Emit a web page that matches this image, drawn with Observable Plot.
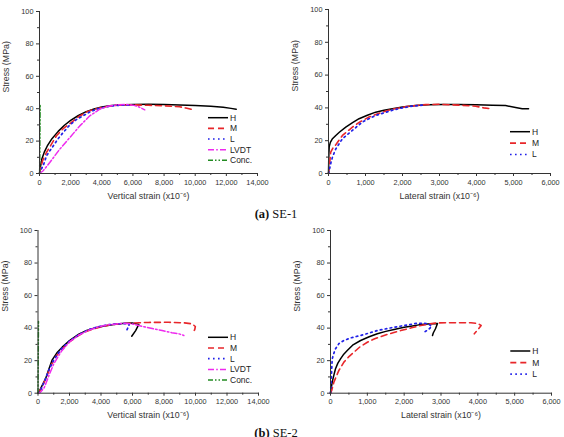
<!DOCTYPE html>
<html>
<head>
<meta charset="utf-8">
<script src="https://cdn.jsdelivr.net/npm/d3@7"></script>
<script src="https://cdn.jsdelivr.net/npm/@observablehq/plot@0.6"></script>
<style>
  html, body { margin: 0; padding: 0; background: #fff; }
  #wrap { position: relative; width: 564px; height: 437px; overflow: hidden; background: #fff; }
  .panel { position: absolute; }
  .caption { position: absolute; width: 200px; text-align: center; font-family: "Palatino Linotype", "Book Antiqua", "Liberation Serif", "DejaVu Serif", serif; font-size: 12.5px; color: #111; white-space: nowrap; }
  .caption b { font-weight: bold; }
</style>
</head>
<body>
<div id="wrap"></div>
<script>
// ---------- tick values / labels ----------
const yTicks = [0, 20, 40, 60, 80, 100];
const yMinor = [10, 30, 50, 70, 90];
const xTicksVert = [0, 2000, 4000, 6000, 8000, 10000, 12000, 14000];
const xMinorVert = [1000, 3000, 5000, 7000, 9000, 11000, 13000];
const xTicksLat = [0, 1000, 2000, 3000, 4000, 5000, 6000];
const xMinorLat = [500, 1500, 2500, 3500, 4500, 5500];
const yTitle = "Stress (MPa)";
const xTitleVert = "Vertical strain (x10\u207B\u2076)";
const xTitleLat = "Lateral strain (x10\u207B\u2076)";
const captions = ["SE-1", "SE-2"];
const captionTags = ["(a)", "(b)"];
const vertSeries = ["H", "M", "L", "LVDT", "Conc."];
const latSeries = ["H", "M", "L"];

// ---------- SE-1 vertical strain ----------
const se1V_H = [[0,0],[60,4],[150,9],[300,13],[500,17],[800,21.5],[1200,26],[1600,29.8],[2000,32.8],[2500,35.8],[3000,38.2],[3500,39.8],[4000,41.1],[4500,41.8],[5000,42.3],[6000,42.6],[7000,42.7],[8000,42.6],[9000,42.3],[10000,41.9],[11000,41.5],[11800,40.9],[12300,40.2],[12630,39.6]];
const se1V_M = [[0,0],[100,4],[200,8],[450,13],[700,17],[1090,23.3],[1500,27.5],[1950,30.8],[2500,35],[3020,37.9],[3500,39.6],[4000,40.8],[4500,41.6],[5000,42.1],[6000,42.4],[7000,42.1],[7950,41.8],[9000,41.2],[9400,40.4],[9880,39.3]];
const se1V_L = [[0,0],[80,2],[237,4.8],[450,10.9],[700,14.5],[880,17],[1200,21.5],[1520,25.3],[1950,30],[2400,33.5],[2800,35.6],[3200,37.8],[3660,39.7],[4200,41],[4730,41.8],[5300,42.2],[5800,42.2]];
const se1V_LVDT = [[0,0],[237,1.7],[660,6.8],[1300,15],[1950,22.2],[2590,29.4],[3230,35.6],[3870,39.7],[4400,41.5],[4950,42.4],[5500,42.6],[6020,42.2],[6400,41],[6760,39.3]];
const se1V_Conc = [[10,0],[20,15],[30,30],[40,42]];

// ---------- SE-1 lateral strain ----------
const se1L_H = [[0,0],[5,6],[10,12],[20,16.5],[50,19],[100,21],[197,23.2],[300,25.3],[467,28.3],[650,31],[826,33.4],[1050,35.5],[1276,37.4],[1500,38.6],[1727,39.5],[2000,40.6],[2357,41.5],[2700,41.9],[3077,42.1],[3500,42.1],[4000,41.9],[4426,41.6],[4786,41.4],[5056,40.3],[5236,39.5],[5407,39.5]];
const se1L_M = [[0,0],[20,3],[35,7],[60,13],[120,15.5],[197,17.5],[377,23.2],[647,28.3],[850,31.5],[1096,34.4],[1400,37],[1727,39.2],[2100,40.8],[2627,42],[3000,42.2],[3527,41.7],[3977,41],[4200,40],[4380,39.5]];
const se1L_L = [[0,0],[20,2],[35,3.5],[70,7],[107,10],[197,15],[377,21.2],[647,26.3],[916,31.4],[1276,35.4],[1727,38.6],[2000,40],[2267,41.1],[2600,41.8]];

// ---------- SE-2 vertical strain ----------
const se2V_H = [[0,0],[50,0.6],[250,4.5],[476,8.8],[700,15],[902,20.5],[1200,24.8],[1536,28.3],[2000,32.3],[2590,36.3],[3100,38.6],[3651,40.2],[4300,41.5],[4920,42.4],[5500,43],[5980,43.2],[6400,42.3],[6200,38.5],[5950,35]];
const se2V_M = [[0,0],[100,1],[300,5],[500,9],[800,16.5],[1100,22],[1500,27],[2000,31.5],[2500,35],[3000,37.8],[3500,39.5],[4000,40.8],[4600,42],[5200,42.7],[6000,43.1],[6400,43.3],[7000,43.5],[8300,43.6],[9300,43.2],[9790,42.6],[9990,41],[9950,39],[9800,37.1]];
const se2V_L = [[0,0],[150,1.5],[400,7],[700,14.5],[1000,20.5],[1500,27.5],[2000,32],[2600,36],[3200,39],[3800,40.8],[4400,42],[5000,42.6],[5500,42.8],[5800,42.5],[5700,40],[5600,38]];
const se2V_LVDT = [[0,0],[150,0.5],[400,3.5],[700,11],[1000,18],[1500,26],[2000,31.5],[2600,35.8],[3200,38.6],[3800,40.7],[4400,42],[5000,42.6],[5500,43],[6000,42.5],[6825,40.6],[7880,38.5],[8500,37.2],[8940,36.5],[9260,35.5]];
const se2V_Conc = [[0,0],[10,15],[20,30],[30,44]];

// ---------- SE-2 lateral strain ----------
const se2L_H = [[0,0],[20,3],[46,6.8],[90,11],[136,15],[200,18.5],[272,21.1],[360,24],[455,26.2],[600,29.5],[817,32.4],[1050,34.7],[1271,36.5],[1500,38],[1726,39.2],[2000,40.5],[2178,41.2],[2400,42],[2633,42.6],[2905,42.8],[2850,39.6],[2790,37],[2769,35.5]];
const se2L_M = [[0,0],[30,1.5],[92,6.8],[160,10.5],[228,14],[364,19.1],[500,22.5],[637,25.2],[800,28.5],[1000,31.3],[1200,33.5],[1454,35.5],[1700,37.2],[1906,38.5],[2200,40.2],[2450,41.6],[2700,42.6],[2905,43.2],[3300,43.3],[3812,43.3],[4000,42.8],[4090,41.6],[4000,39],[3904,36.5]];
const se2L_L = [[0,0],[15,6],[30,13],[46,21],[90,24.5],[136,27.3],[230,30.5],[364,32.4],[550,34],[817,35.5],[1050,37],[1271,38.5],[1600,40],[2000,41.6],[2360,43],[2650,42.8],[2750,41],[2650,39],[2543,37.5]];

// ---------- styles ----------
const styles = {
  "H":     {stroke: "#000000", dash: null,               width: 1.5},
  "M":     {stroke: "#e8262a", dash: "6,4",              width: 1.6},
  "L":     {stroke: "#2020e8", dash: "1.6,3.4",          width: 1.7},
  "LVDT":  {stroke: "#ee2aee", dash: "6,2.2,1.6,2.2",    width: 1.5},
  "Conc.": {stroke: "#228b22", dash: "5,2,1.5,2,1.5,2",  width: 1.5}
};

const FONT = "'Liberation Sans', Arial, Helvetica, sans-serif";

function makePanel(cfg) {
  const lines = cfg.names.map((n, i) => {
    const s = styles[n];
    return Plot.line(cfg.data[i], {
      x: d => d[0], y: d => d[1],
      stroke: s.stroke, strokeWidth: s.width,
      strokeDasharray: s.dash, strokeLinejoin: "round"
    });
  });
  const svg = Plot.plot({
    width: 282, height: 210,
    marginLeft: cfg.m[0], marginRight: cfg.m[1], marginTop: cfg.m[2], marginBottom: cfg.m[3],
    x: {domain: [0, cfg.xTicks[cfg.xTicks.length - 1]]},
    y: {domain: [0, 100]},
    style: {fontFamily: FONT, fontSize: "7.3px", color: "#333", background: "transparent", overflow: "visible"},
    marks: [
      ...lines,
      Plot.frame({anchor: "left", stroke: "#333"}),
      Plot.frame({anchor: "bottom", stroke: "#333"}),
      Plot.axisX({ticks: cfg.xTicks, tickSize: 3, tickPadding: 3, tickFormat: d3.format(","), label: null, stroke: "#333"}),
      Plot.axisX({ticks: cfg.xMinor, tickSize: 2, tickFormat: () => "", label: null, stroke: "#333"}),
      Plot.axisY({ticks: yTicks, tickSize: 3, tickPadding: 3, label: null, stroke: "#333"}),
      Plot.axisY({ticks: yMinor, tickSize: 2, tickFormat: () => "", label: null, stroke: "#333"}),
      Plot.text([cfg.xTitle], {frameAnchor: "bottom", dy: 25, fontSize: 8.8, fill: "#333"}),
      Plot.text([yTitle], {frameAnchor: "left", dx: -33, rotate: -90, fontSize: 8.8, fill: "#333"})
    ]
  });
  // legend
  const g = d3.select(svg).append("g")
    .attr("font-family", FONT).attr("font-size", 8.5).attr("fill", "#222")
    .attr("text-anchor", "start");
  cfg.names.forEach((n, i) => {
    const s = styles[n];
    const y = cfg.leg.y + i * cfg.leg.dy;
    g.append("line").attr("x1", cfg.leg.x).attr("x2", cfg.leg.x + cfg.leg.len)
      .attr("y1", y).attr("y2", y)
      .attr("stroke", s.stroke).attr("stroke-width", s.width)
      .attr("stroke-dasharray", s.dash);
    g.append("text").attr("x", cfg.leg.x + cfg.leg.len + 2).attr("y", y)
      .attr("text-anchor", "start")
      .attr("dy", "0.35em").text(n);
  });
  svg.classList.add("panel");
  svg.style.left = cfg.pos[0] + "px";
  svg.style.top = cfg.pos[1] + "px";
  return svg;
}

const wrap = document.getElementById("wrap");
const panels = [
  {pos: [0, 0], m: [39, 25, 11, 37], xTicks: xTicksVert, xMinor: xMinorVert, xTitle: xTitleVert,
   names: vertSeries, data: [se1V_H, se1V_M, se1V_L, se1V_LVDT, se1V_Conc],
   leg: {x: 208, y: 117.7, dy: 10.65, len: 20}},
  {pos: [282, 0], m: [46, 14, 9, 37], xTicks: xTicksLat, xMinor: xMinorLat, xTitle: xTitleLat,
   names: latSeries, data: [se1L_H, se1L_M, se1L_L],
   leg: {x: 228, y: 131.7, dy: 11.4, len: 20}},
  {pos: [0, 220], m: [37.5, 24, 10, 37.3], xTicks: xTicksVert, xMinor: xMinorVert, xTitle: xTitleVert,
   names: vertSeries, data: [se2V_H, se2V_M, se2V_L, se2V_LVDT, se2V_Conc],
   leg: {x: 208, y: 117.3, dy: 10.7, len: 20}},
  {pos: [282, 220], m: [48, 13, 10, 37.3], xTicks: xTicksLat, xMinor: xMinorLat, xTitle: xTitleLat,
   names: latSeries, data: [se2L_H, se2L_M, se2L_L],
   leg: {x: 228.3, y: 131, dy: 11.6, len: 20}}
];
panels.forEach(p => wrap.appendChild(makePanel(p)));

// captions
const capTops = [207, 426];
captions.forEach((c, i) => {
  const d = document.createElement("div");
  d.className = "caption";
  d.style.left = (276 - 100) + "px";
  d.style.top = capTops[i] + "px";
  const b = document.createElement("b");
  b.textContent = captionTags[i];
  d.appendChild(b);
  d.appendChild(document.createTextNode(" " + c));
  wrap.appendChild(d);
});
</script>
</body>
</html>
